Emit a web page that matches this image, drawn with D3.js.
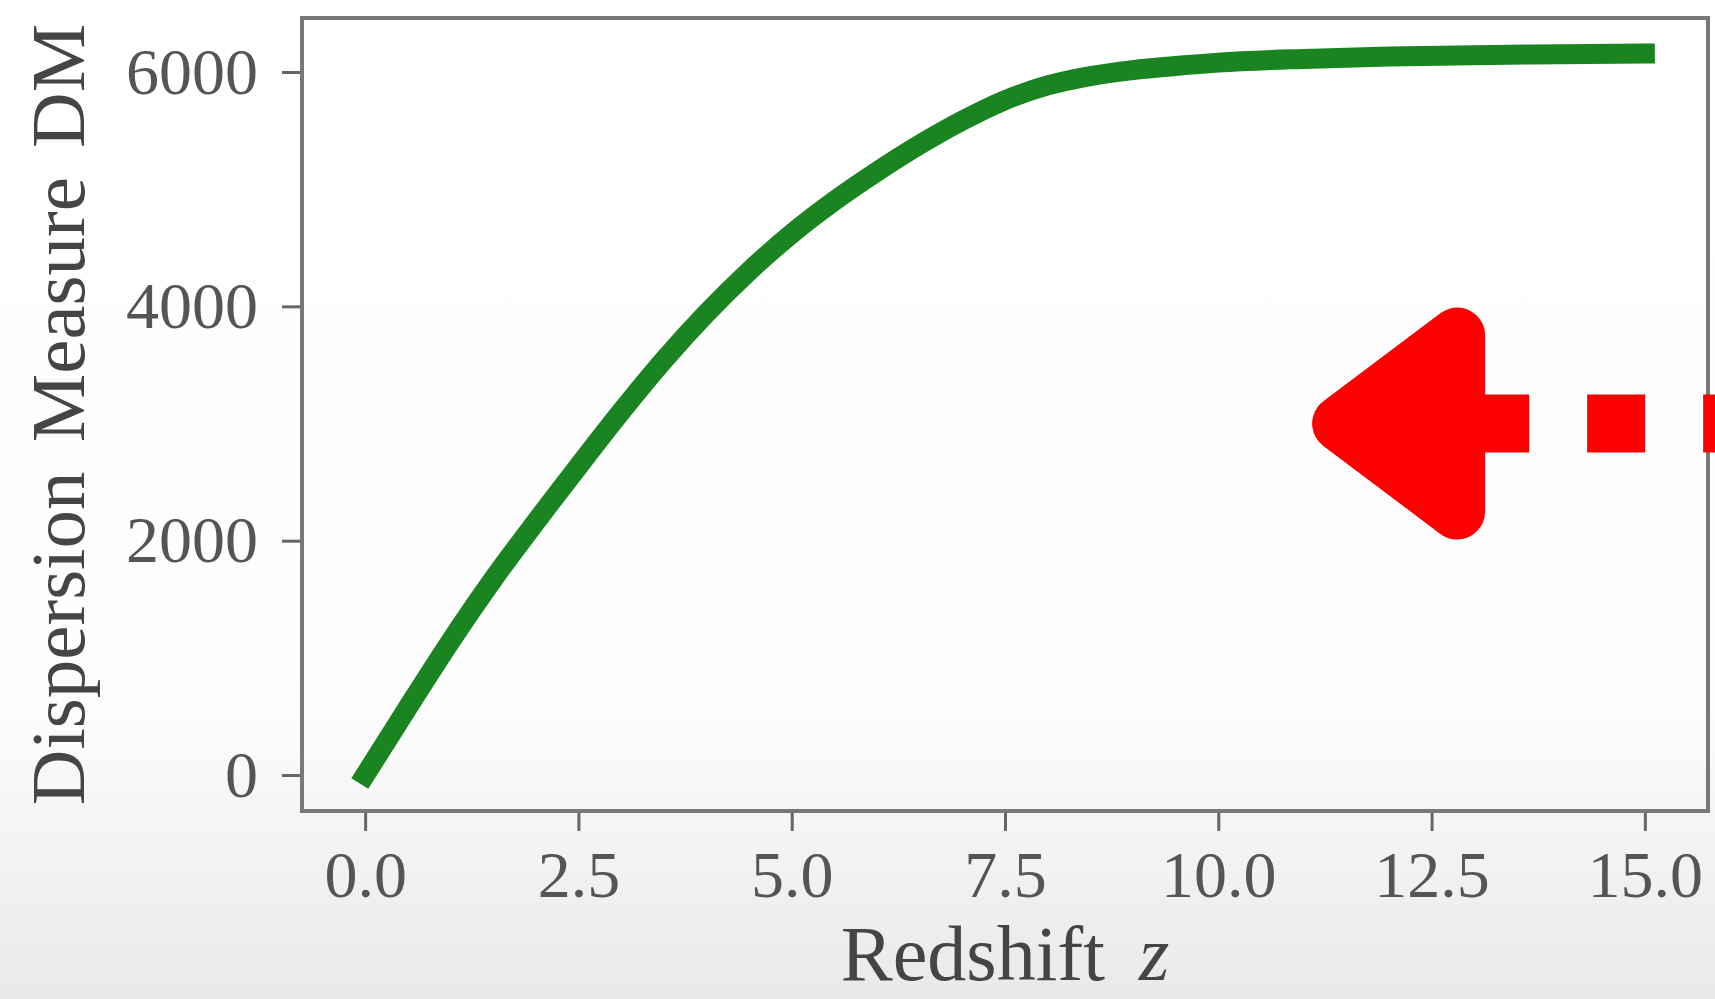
<!DOCTYPE html>
<html>
<head>
<meta charset="utf-8">
<script src="https://cdn.jsdelivr.net/npm/d3@7/dist/d3.min.js"></script>
<style>
  html, body { margin: 0; padding: 0; }
  body { width: 1715px; height: 999px; overflow: hidden; }
  svg { display: block; }
  .tick text { font-family: "Liberation Serif", "DejaVu Serif", serif; }
</style>
</head>
<body>
<svg id="chart" width="1715" height="999"></svg>
<script>
// Dispersion measure accumulated along the line of sight versus redshift
const redshift = [0, 0.5, 1.0, 1.5, 2.0, 2.5, 3.0, 3.5, 4.0, 4.5, 5.0, 5.5, 6.0, 6.5,
                  7.0, 7.5, 8.0, 8.5, 9.0, 9.5, 10.0, 11.0, 12.0, 13.0, 14.0, 15.0];
const dispersion = [0, 575, 1140, 1670, 2160, 2635, 3100, 3540, 3940, 4300, 4620, 4900, 5150, 5380,
                    5585, 5760, 5885, 5965, 6016, 6051, 6080, 6112, 6132, 6144, 6152, 6158];

const xTicks = [0, 2.5, 5.0, 7.5, 10.0, 12.5, 15.0];
const yTicks = [0, 2000, 4000, 6000];
const xLimits = [-0.74, 15.74];
const yLimits = [-307, 6461];

// Pointer annotation anchored in data space
const pointerTip = { z: 11.1, dm: 3000 };

const W = 1715, H = 999;
const plot = { left: 302, right: 1708, top: 18, bottom: 811 };

const svg = d3.select("#chart");

// Page background: white fading into light grey toward the bottom
const defs = svg.append("defs");
const grad = defs.append("linearGradient")
  .attr("id", "bg").attr("x1", 0).attr("y1", 0).attr("x2", 0).attr("y2", 1);
grad.append("stop").attr("offset", "0").attr("stop-color", "#ffffff");
grad.append("stop").attr("offset", "0.70").attr("stop-color", "#fdfdfd");
grad.append("stop").attr("offset", "1").attr("stop-color", "#e9e9e9");
svg.append("rect").attr("width", W).attr("height", H).attr("fill", "url(#bg)");

const x = d3.scaleLinear().domain(xLimits).range([plot.left, plot.right]);
const y = d3.scaleLinear().domain(yLimits).range([plot.bottom, plot.top]);

// Axes
const yAxis = d3.axisLeft(y)
  .tickValues(yTicks)
  .tickFormat(d3.format("d"))
  .tickSize(20)
  .tickPadding(24);
const xAxis = d3.axisBottom(x)
  .tickValues(xTicks)
  .tickFormat(d3.format(".1f"))
  .tickSize(20)
  .tickPadding(19);

const gy = svg.append("g").attr("transform", `translate(${plot.left},0)`).call(yAxis);
const gx = svg.append("g").attr("transform", `translate(0,${plot.bottom})`).call(xAxis);
[gx, gy].forEach(g => {
  g.select(".domain").remove();
  g.selectAll(".tick line").attr("stroke", "#666").attr("stroke-width", 3);
  g.selectAll(".tick text")
    .attr("fill", "#555555")
    .style("font-size", "66px");
});

// Frame around the plotting area
svg.append("rect")
  .attr("x", plot.left).attr("y", plot.top)
  .attr("width", plot.right - plot.left)
  .attr("height", plot.bottom - plot.top)
  .attr("fill", "none")
  .attr("stroke", "#787878")
  .attr("stroke-width", 4);

// DM(z) curve
const pts = redshift.map((z, i) => [z, dispersion[i]]);
const line = d3.line()
  .x(d => x(d[0]))
  .y(d => y(d[1]))
  .curve(d3.curveMonotoneX);
svg.append("path")
  .datum(pts)
  .attr("d", line)
  .attr("fill", "none")
  .attr("stroke", "#1a8420")
  .attr("stroke-width", 20)
  .attr("stroke-linecap", "square")
  .attr("stroke-linejoin", "round");

// Axis titles
svg.append("text")
  .attr("transform", `translate(84,${(plot.top + plot.bottom) / 2}) rotate(-90)`)
  .attr("text-anchor", "middle")
  .attr("fill", "#454545")
  .attr("word-spacing", 10)
  .style("font-family", "'Liberation Serif', 'DejaVu Serif', serif")
  .style("font-size", "77px")
  .text("Dispersion Measure DM");

const xt = svg.append("text")
  .attr("x", (plot.left + plot.right) / 2)
  .attr("y", 980)
  .attr("text-anchor", "middle")
  .attr("fill", "#454545")
  .style("font-family", "'Liberation Serif', 'DejaVu Serif', serif")
  .style("font-size", "78px");
xt.append("tspan").text("Redshift");
xt.append("tspan").attr("dx", 34).style("font-style", "italic").text("z");

// Red pointer: rounded triangular head with a dashed shaft
const tipX = x(pointerTip.z), tipY = y(pointerTip.dm);
const headLen = 173, headHalf = 116, r = 28;
const head = [
  [tipX + r, tipY],
  [tipX + headLen - r, tipY - headHalf + r],
  [tipX + headLen - r, tipY + headHalf - r]
];
svg.append("path")
  .attr("d", "M" + head.map(p => p.join(",")).join("L") + "Z")
  .attr("fill", "#ff0000")
  .attr("stroke", "#ff0000")
  .attr("stroke-width", 2 * r)
  .attr("stroke-linejoin", "round");
svg.append("line")
  .attr("x1", tipX + headLen - 14).attr("x2", W + 120)
  .attr("y1", tipY).attr("y2", tipY)
  .attr("stroke", "#ff0000")
  .attr("stroke-width", 58)
  .attr("stroke-dasharray", "58 58");
</script>
</body>
</html>
